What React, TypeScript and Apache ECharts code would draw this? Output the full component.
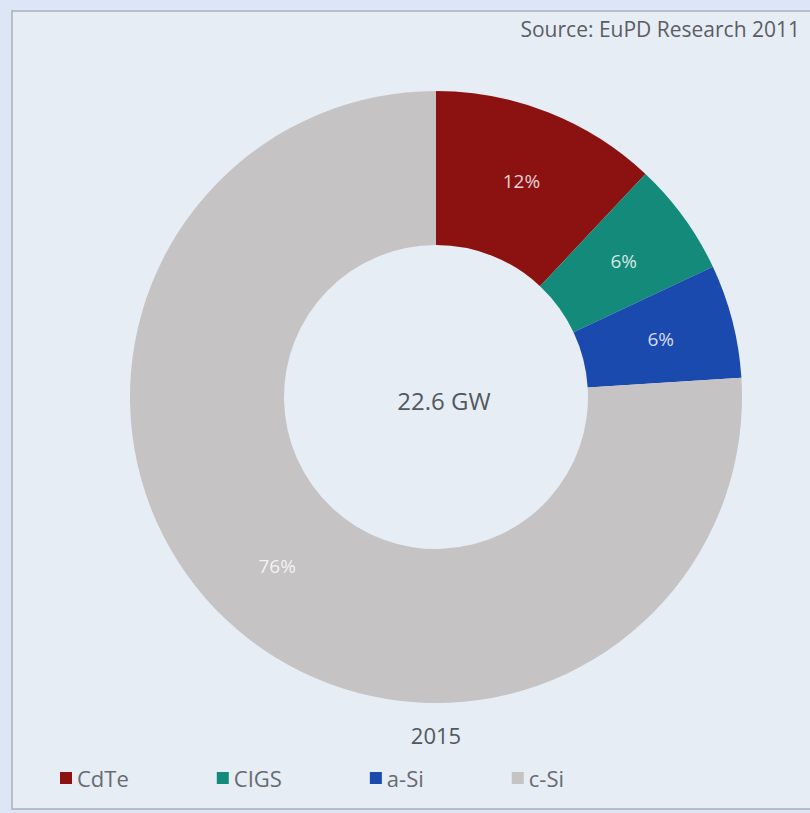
import React, { useEffect, useRef } from "react";
import * as echarts from "echarts";

const categories = ["CdTe", "CIGS", "a-Si", "c-Si"];
const shares = [12, 6, 6, 76];
const colors = ["#8c1212", "#138a7a", "#1b4aae", "#c5c3c3"];
const totalLabel = "22.6 GW";
const yearLabel = "2015";
const sourceLabel = "Source: EuPD Research 2011";

export default function App() {
  const ref = useRef<HTMLDivElement>(null);
  useEffect(() => {
    document.body.style.margin = "0";
    const chart = echarts.init(ref.current!, null, { renderer: "svg" });
    const font = "'Open Sans', 'Noto Sans', sans-serif";
    chart.setOption({
      animation: false,
      backgroundColor: "#dde6f6",
      color: colors,
      textStyle: { fontFamily: font },
      graphic: [
        {
          type: "rect",
          z: -10,
          shape: { x: 12, y: 11, width: 810, height: 798 },
          style: { fill: "#e7edf5", stroke: "#b9bec5", lineWidth: 2 },
        },
        {
          type: "text",
          right: 10,
          top: 18,
          style: { text: sourceLabel, fontSize: 21, fill: "#5a5e63", fontFamily: font },
        },
        {
          type: "text",
          x: 444,
          y: 400,
          style: {
            text: totalLabel,
            fontSize: 24,
            fill: "#52575d",
            fontFamily: font,
            align: "center",
            verticalAlign: "middle",
          },
        },
        {
          type: "text",
          x: 436,
          y: 735,
          style: {
            text: yearLabel,
            fontSize: 22,
            fill: "#52575d",
            fontFamily: font,
            align: "center",
            verticalAlign: "middle",
          },
        },
      ],
      legend: {
        data: categories,
        left: 55,
        top: 762,
        icon: "rect",
        itemWidth: 12,
        itemHeight: 12,
        itemGap: 88,
        textStyle: { fontSize: 22, color: "#676b70", fontFamily: font },
        selectedMode: false,
      },
      series: [
        {
          type: "pie",
          center: [436, 397],
          radius: [152, 306],
          startAngle: 90,
          clockwise: true,
          avoidLabelOverlap: false,
          label: {
            show: true,
            position: "inside",
            formatter: "{c}%",
            color: "rgba(255,255,255,0.82)",
            fontSize: 19,
            fontFamily: font,
          },
          labelLine: { show: false },
          itemStyle: { borderWidth: 0 },
          emphasis: { disabled: true },
          data: categories.map((name, i) => ({ name, value: shares[i] })),
        },
      ],
    });
    return () => chart.dispose();
  }, []);
  return (
    <div
      ref={ref}
      style={{ position: "fixed", left: 0, top: 0, width: 810, height: 813 }}
    />
  );
}
